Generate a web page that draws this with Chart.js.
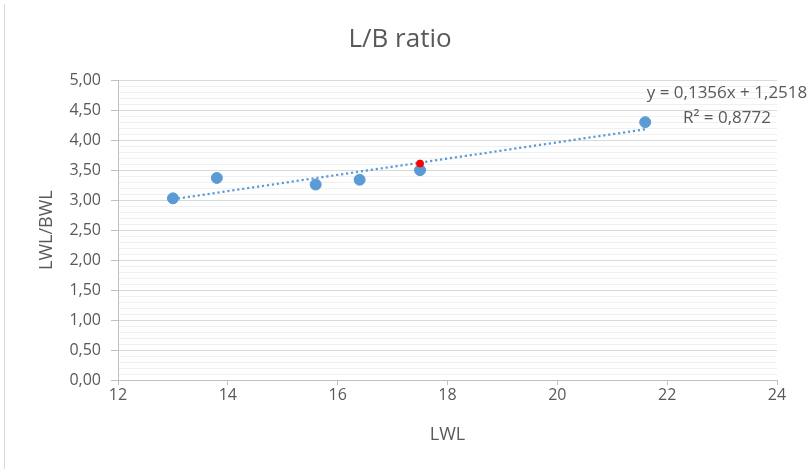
<!DOCTYPE html>
<html>
<head>
<meta charset="utf-8">
<script src="https://cdn.jsdelivr.net/npm/chart.js@4/dist/chart.umd.min.js"></script>
<style>
  html, body { margin: 0; padding: 0; background: #ffffff; }
  #wrap { position: relative; width: 809px; height: 469px; }
  #edge { position: absolute; left: 4px; top: 4px; bottom: 0; width: 1px; background: #d9d9d9; }
  canvas { display: block; }
</style>
</head>
<body>
<div id="wrap">
  <canvas id="c" width="809" height="469"></canvas>
  <div id="edge"></div>
</div>
<script>
// Waterline length (m) and length/beam ratio of the reference boats
const lwl = [13.0, 13.8, 15.6, 16.4, 17.5, 21.6];
const lbRatio = [3.03, 3.37, 3.26, 3.34, 3.50, 4.30];

// The design being compared
const designLwl = [17.5];
const designRatio = [3.61];

// Linear trend fitted to the reference boats
const trendSlope = 0.1356;
const trendIntercept = 1.2518;
const trendR2 = 0.8772;

const xTicks = [12, 14, 16, 18, 20, 22, 24];
const yMin = 0, yMax = 5, yMajor = 0.5, yMinor = 0.1;

const FONT = "'Open Sans', sans-serif";
const TEXT = '#595959';
const BLUE = '#5b9bd5';

const fmt = (v, d) => v.toFixed(d).replace('.', ',');
const isMajor = v => Math.abs(v / yMajor - Math.round(v / yMajor)) < 1e-6;

const xLo = Math.min(...lwl), xHi = Math.max(...lwl);
const trendData = [xLo, xHi].map(x => ({ x: x, y: trendSlope * x + trendIntercept }));

// Equation and R² of the trend, written beside the last point
const trendLabel = {
  id: 'trendLabel',
  afterDatasetsDraw(chart) {
    const ctx = chart.ctx;
    const a = chart.chartArea;
    ctx.save();
    ctx.fillStyle = TEXT;
    ctx.font = '17px ' + FONT;
    ctx.textAlign = 'center';
    ctx.textBaseline = 'middle';
    ctx.fillText('y = ' + fmt(trendSlope, 4) + 'x + ' + fmt(trendIntercept, 4), a.right - 50, a.top + 13);
    ctx.fillText('R\u00B2 = ' + fmt(trendR2, 4), a.right - 50, a.top + 38);
    ctx.restore();
  }
};

new Chart(document.getElementById('c'), {
  type: 'scatter',
  data: {
    datasets: [
      {
        label: 'Trend',
        type: 'line',
        data: trendData,
        borderColor: BLUE,
        borderWidth: 2.25,
        borderDash: [2.2, 2.8],
        pointRadius: 0,
        fill: false,
        order: 3
      },
      {
        label: 'Reference boats',
        data: lwl.map((x, i) => ({ x: x, y: lbRatio[i] })),
        backgroundColor: BLUE,
        borderColor: BLUE,
        pointRadius: 5.5,
        pointHoverRadius: 5.5,
        order: 2
      },
      {
        label: 'Design',
        data: designLwl.map((x, i) => ({ x: x, y: designRatio[i] })),
        backgroundColor: '#ff0000',
        borderColor: '#ff0000',
        pointRadius: 3.5,
        pointHoverRadius: 3.5,
        order: 1
      }
    ]
  },
  options: {
    responsive: false,
    animation: false,
    events: [],
    layout: { padding: { left: 23, right: 32, top: 0, bottom: 19 } },
    plugins: {
      legend: { display: false },
      tooltip: { enabled: false },
      title: {
        display: true,
        text: 'L/B ratio',
        color: TEXT,
        font: { family: FONT, size: 26, weight: 'normal', lineHeight: 1.2 },
        padding: { top: 24, bottom: 25 }
      }
    },
    scales: {
      x: {
        type: 'linear',
        min: 12,
        max: 24,
        afterBuildTicks(scale) { scale.ticks = xTicks.map(v => ({ value: v })); },
        afterFit(scale) { scale.height = 70; },
        ticks: {
          color: TEXT,
          font: { family: FONT, size: 16 },
          padding: 1,
          maxRotation: 0,
          callback: v => String(v)
        },
        grid: {
          drawOnChartArea: false,
          drawTicks: true,
          tickLength: 5,
          tickColor: '#bfbfbf'
        },
        border: { color: '#bfbfbf', width: 1 },
        title: {
          display: true,
          text: 'LWL',
          color: TEXT,
          font: { family: FONT, size: 18, lineHeight: 1.2 },
          padding: { top: 4, bottom: 4 }
        }
      },
      y: {
        type: 'linear',
        min: yMin,
        max: yMax,
        afterFit(scale) { scale.width = 95; },
        ticks: {
          stepSize: yMinor,
          autoSkip: false,
          color: TEXT,
          font: { family: FONT, size: 16 },
          padding: 10,
          callback: v => isMajor(v) ? fmt(v, 2) : ''
        },
        grid: {
          drawTicks: true,
          tickLength: 7,
          color: ctx => isMajor(ctx.tick.value) ? '#d9d9d9' : '#f0f0f0',
          tickColor: ctx => isMajor(ctx.tick.value) ? '#bfbfbf' : 'rgba(0,0,0,0)',
          lineWidth: 1
        },
        border: { color: '#bfbfbf', width: 1 },
        title: {
          display: true,
          text: 'LWL/BWL',
          color: TEXT,
          font: { family: FONT, size: 18, lineHeight: 1.2 },
          padding: { top: 13, bottom: 4 }
        }
      }
    }
  },
  plugins: [trendLabel]
});
</script>
</body>
</html>
